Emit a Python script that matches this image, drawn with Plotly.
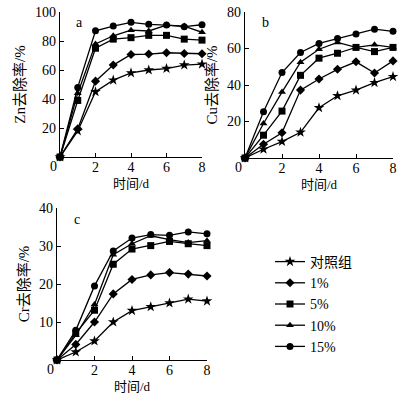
import plotly.graph_objects as go

days = [0, 1, 2, 3, 4, 5, 6, 7, 8]
series_names = ["对照组", "1%", "5%", "10%", "15%"]
symbols = ["star", "diamond", "square", "triangle-up", "circle"]

zn_control = [0, 18, 45, 53, 58, 60, 61, 63.4, 64]
zn_1 = [0, 19.4, 52.3, 63.4, 70.7, 71, 71.9, 71.4, 71.2]
zn_5 = [0, 39, 75, 81.3, 82.3, 83.9, 83.9, 81.3, 80.6]
zn_10 = [0, 44, 78, 83.6, 87.5, 86.9, 91, 90.3, 86]
zn_15 = [0, 48, 87, 90.3, 92.9, 91.5, 91, 89.9, 91.2]

cu_control = [0, 4.8, 9, 14.1, 27.5, 34.1, 37.2, 41.3, 44.6]
cu_1 = [0, 7.5, 13.8, 37.2, 43.3, 48.6, 52.7, 46.6, 53.2]
cu_5 = [0, 12.5, 25.7, 45.3, 54.7, 57.4, 60.6, 58.3, 60.6]
cu_10 = [0, 18.9, 36.1, 52.5, 59.6, 63.3, 60.6, 62, 60.6]
cu_15 = [0, 25.3, 46.8, 57.8, 62.8, 65.5, 67.9, 70.6, 69.4]

cr_control = [0, 2.1, 5, 10, 13, 14, 15, 16, 15.5]
cr_1 = [0, 4.1, 10, 17.4, 21.2, 22.4, 23, 22.6, 22.1]
cr_5 = [0, 7, 13.1, 25.2, 29.2, 30.1, 31.2, 30.6, 30.1]
cr_10 = [0, 6.5, 14.6, 27.7, 30.6, 32.7, 31.7, 30.9, 31.4]
cr_15 = [0, 7.8, 19.5, 28.7, 32.1, 33, 32.8, 33.7, 33.2]

panels = [
    ("x", "y", [zn_control, zn_1, zn_5, zn_10, zn_15]),
    ("x2", "y2", [cu_control, cu_1, cu_5, cu_10, cu_15]),
    ("x3", "y3", [cr_control, cr_1, cr_5, cr_10, cr_15]),
]

FONT = "Liberation Serif, Times New Roman, Noto Sans CJK SC, serif"
W, H = 419, 397

fig = go.Figure()
for pi, (xa, ya, data) in enumerate(panels):
    for si, vals in enumerate(data):
        fig.add_trace(go.Scatter(
            x=days, y=vals, xaxis=xa, yaxis=ya, mode="lines+markers",
            name=series_names[si], showlegend=(pi == 2),
            line=dict(color="black", width=1.3),
            marker=dict(symbol=symbols[si], size=7 if si != 0 else 8, color="black"),
            cliponaxis=False,
        ))

def px_x(p):
    return p / W

def px_y(p):
    return 1 - p / H

axis_common = dict(showgrid=False, zeroline=False, showline=True, linecolor="black",
                   linewidth=1.2, ticks="inside", ticklen=4, tickcolor="black",
                   automargin=False,
                   tickfont=dict(family=FONT, size=14, color="black"))

def xaxis(domain, anchor):
    return dict(axis_common, domain=domain, anchor=anchor, range=[0, 8],
                tickvals=[2, 4, 6, 8], ticklabelstandoff=-3,
                title=dict(text="时间/d", standoff=4,
                           font=dict(family=FONT, size=13, color="black")))

def yaxis(domain, anchor, rng, tv, title):
    return dict(axis_common, domain=domain, anchor=anchor, range=rng,
                tickvals=tv, title=dict(text=title, standoff=5,
                font=dict(family=FONT, size=15, color="black")))

fig.update_layout(
    width=W, height=H, margin=dict(l=0, r=0, t=0, b=0),
    plot_bgcolor="white", paper_bgcolor="white",
    xaxis=xaxis([px_x(60), px_x(202)], "y"),
    yaxis=yaxis([px_y(157), px_y(12)], "x", [0, 100], [20, 40, 60, 80, 100], "Zn去除率/%"),
    xaxis2=xaxis([px_x(245), px_x(393)], "y2"),
    yaxis2=yaxis([px_y(158), px_y(12)], "x2", [0, 80], [20, 40, 60, 80], "Cu去除率/%"),
    xaxis3=xaxis([px_x(57), px_x(207)], "y3"),
    yaxis3=yaxis([px_y(360), px_y(208)], "x3", [0, 40], [10, 20, 30, 40], "Cr去除率/%"),
    legend=dict(x=px_x(270), y=px_y(304), xanchor="left", yanchor="middle",
                font=dict(family=FONT, size=14, color="black"),
                itemwidth=30, tracegroupgap=0, bgcolor="rgba(0,0,0,0)"),
    showlegend=True,
)

annots = [("x", "y", "a"), ("x2", "y2", "b"), ("x3", "y3", "c")]
for xa, ya, letter in annots:
    fig.add_annotation(text=letter, xref=xa + " domain", yref=ya + " domain", x=0.1, y=0.99,
                       showarrow=False, xanchor="left", yanchor="top",
                       font=dict(family=FONT, size=14, color="black"))
    fig.add_annotation(text="0", xref=xa + " domain", yref=ya + " domain", x=0, y=0,
                       showarrow=False, xanchor="right", yanchor="top", xshift=-1, yshift=0,
                       font=dict(family=FONT, size=14, color="black"))

fig.write_html("out.html", config={"displayModeBar": False},
               post_script="document.body.style.margin='0';document.body.style.overflow='hidden';")
